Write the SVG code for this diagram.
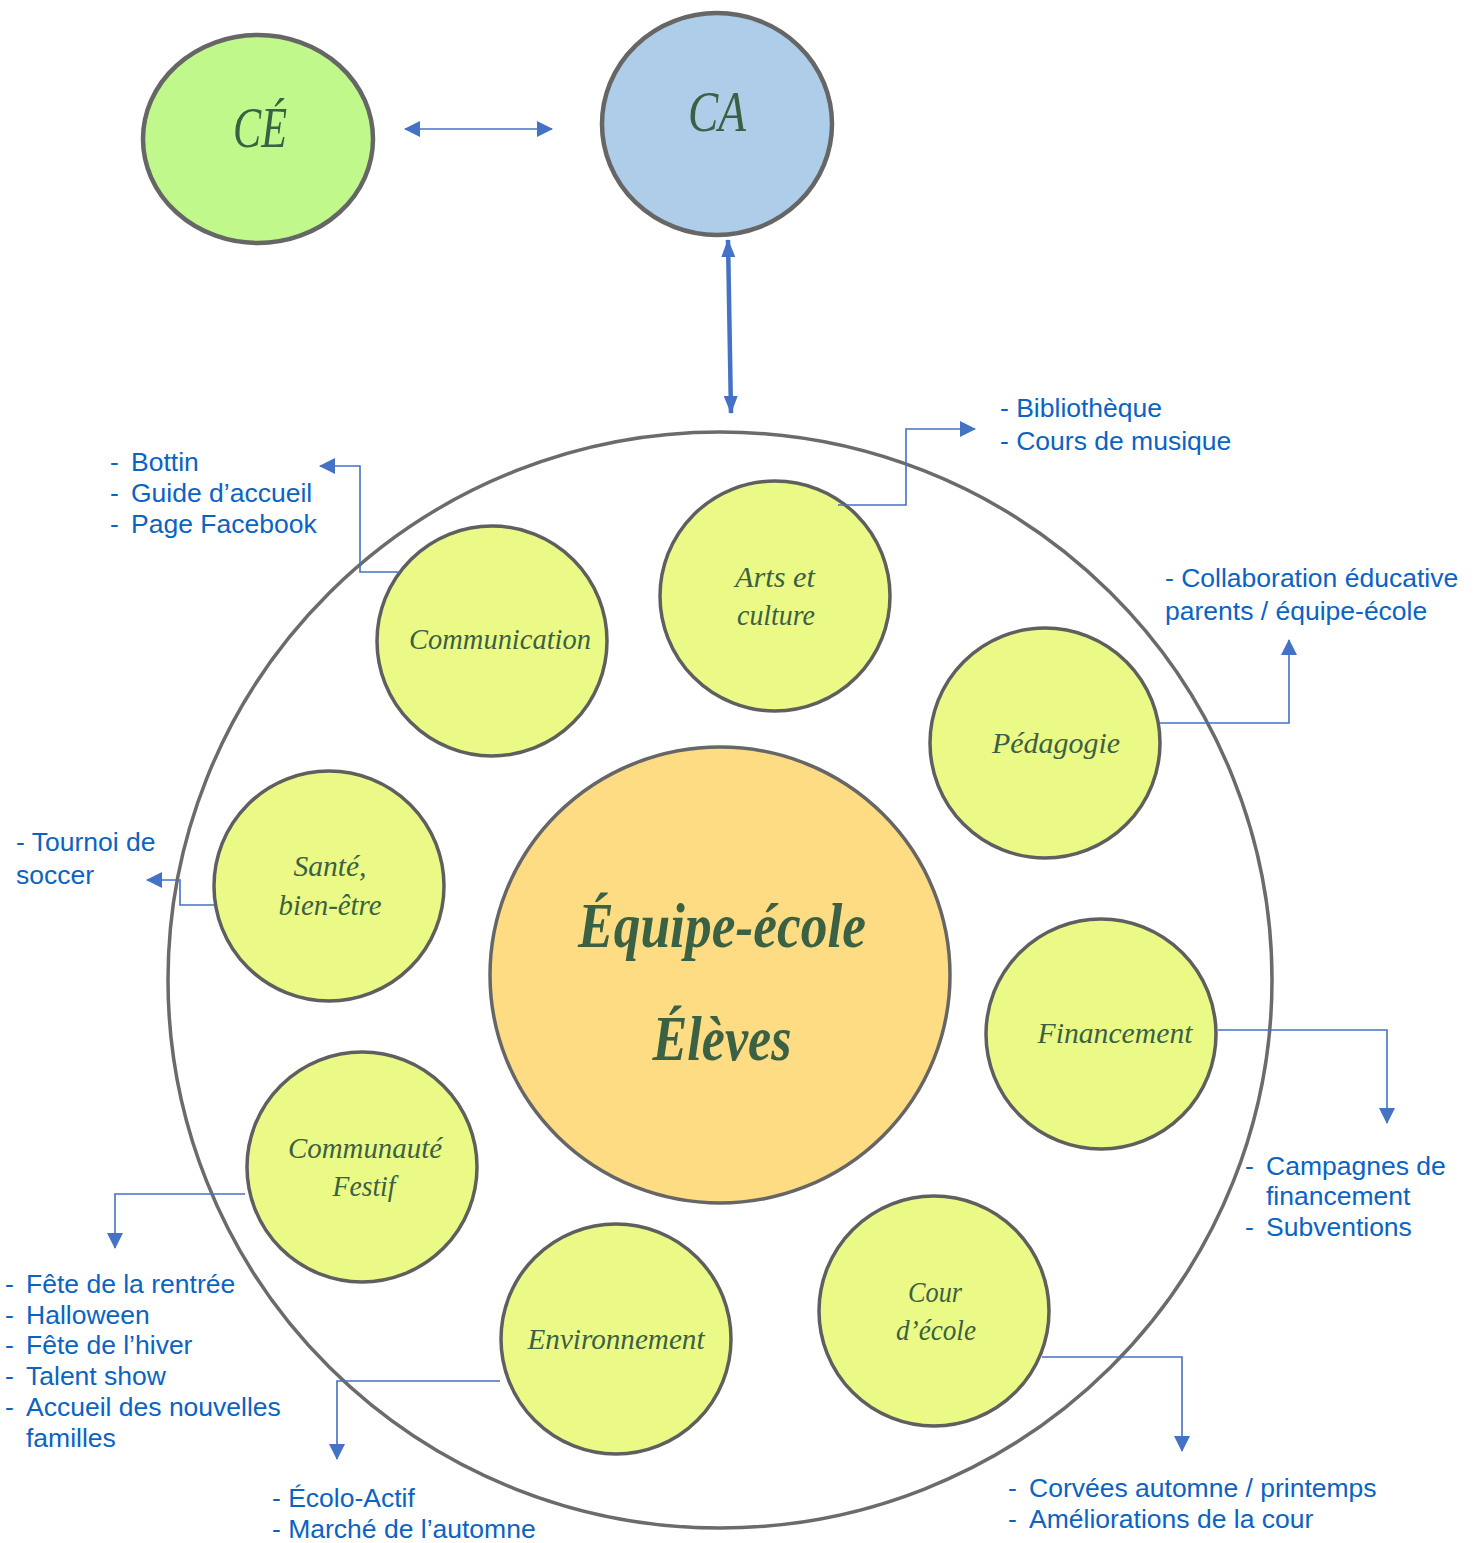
<svg xmlns="http://www.w3.org/2000/svg" width="1478" height="1543" viewBox="0 0 1478 1543">
<style>
.ring{fill:#ffffff;stroke:#6b6b6b;stroke-width:3.5}
.node{fill:#ebfa86;stroke:#5f5f5f;stroke-width:3.5}
.top{stroke:#666666;stroke-width:4.5}
.lbl{font-family:"Liberation Serif",serif;font-style:italic;fill:#3b6145;text-anchor:middle}
.note{font-family:"Liberation Sans",Arial,sans-serif;font-size:26.5px;fill:#0b63c4}
.con{fill:none;stroke:#4472c4;stroke-width:1.6}
</style>
<defs>
<marker id="ah" markerUnits="userSpaceOnUse" viewBox="0 0 16 16" markerWidth="16" markerHeight="16" refX="15" refY="8" orient="auto-start-reverse">
<path d="M0,0 L16,8 L0,16 z" fill="#4472c4"/>
</marker>
<marker id="ahb" markerUnits="userSpaceOnUse" viewBox="0 0 18 14" markerWidth="18" markerHeight="14" refX="17" refY="7" orient="auto-start-reverse">
<path d="M0,0 L18,7 L0,14 z" fill="#4472c4"/>
</marker>
</defs>

<g id="outer-ring"><ellipse class="ring" cx="720" cy="980" rx="552" ry="548"/></g>

<g id="node-ce">
<ellipse class="top" cx="258" cy="139" rx="115" ry="104" fill="#c0f88c"/>
<text class="lbl" x="260" y="147" font-size="58" textLength="54" lengthAdjust="spacingAndGlyphs">CÉ</text>
</g>
<g id="node-ca">
<ellipse class="top" cx="717" cy="124" rx="115" ry="111" fill="#aecde9"/>
<text class="lbl" x="717" y="131" font-size="58" textLength="58" lengthAdjust="spacingAndGlyphs">CA</text>
</g>

<g id="node-center">
<ellipse cx="720" cy="975" rx="230" ry="228" fill="#fddc84" stroke="#666666" stroke-width="3.5"/>
<text class="lbl" x="722" y="947" font-size="64" font-weight="bold" textLength="288" lengthAdjust="spacingAndGlyphs">Équipe-école</text>
<text class="lbl" x="722" y="1060" font-size="64" font-weight="bold" textLength="139" lengthAdjust="spacingAndGlyphs">Élèves</text>
</g>

<g id="node-communication">
<circle class="node" cx="492" cy="641" r="115"/>
<text class="lbl" x="500" y="649" font-size="30" textLength="182" lengthAdjust="spacingAndGlyphs">Communication</text>
</g>
<g id="node-arts">
<circle class="node" cx="775" cy="596" r="115"/>
<text class="lbl" x="775" y="587" font-size="30" textLength="80" lengthAdjust="spacingAndGlyphs">Arts et</text>
<text class="lbl" x="776" y="625" font-size="30" textLength="78" lengthAdjust="spacingAndGlyphs">culture</text>
</g>
<g id="node-pedagogie">
<circle class="node" cx="1045" cy="743" r="115"/>
<text class="lbl" x="1056" y="753" font-size="30" textLength="128" lengthAdjust="spacingAndGlyphs">Pédagogie</text>
</g>
<g id="node-sante">
<circle class="node" cx="329" cy="886" r="115"/>
<text class="lbl" x="330" y="876" font-size="30" textLength="73" lengthAdjust="spacingAndGlyphs">Santé,</text>
<text class="lbl" x="330" y="915" font-size="30" textLength="103" lengthAdjust="spacingAndGlyphs">bien-être</text>
</g>
<g id="node-financement">
<circle class="node" cx="1101" cy="1034" r="115"/>
<text class="lbl" x="1115" y="1043" font-size="30" textLength="155" lengthAdjust="spacingAndGlyphs">Financement</text>
</g>
<g id="node-communaute">
<circle class="node" cx="362" cy="1167" r="115"/>
<text class="lbl" x="365" y="1158" font-size="30" textLength="154" lengthAdjust="spacingAndGlyphs">Communauté</text>
<text class="lbl" x="364" y="1196" font-size="30" textLength="63" lengthAdjust="spacingAndGlyphs">Festif</text>
</g>
<g id="node-environnement">
<circle class="node" cx="616" cy="1339" r="115"/>
<text class="lbl" x="616" y="1349" font-size="30" textLength="177" lengthAdjust="spacingAndGlyphs">Environnement</text>
</g>
<g id="node-cour">
<circle class="node" cx="934" cy="1311" r="115"/>
<text class="lbl" x="935" y="1302" font-size="30" textLength="54" lengthAdjust="spacingAndGlyphs">Cour</text>
<text class="lbl" x="936" y="1340" font-size="30" textLength="80" lengthAdjust="spacingAndGlyphs">d’école</text>
</g>

<g id="connectors">
<path class="con" d="M405,129 L552,129" stroke-width="2" marker-start="url(#ah)" marker-end="url(#ah)"/>
<path d="M728,240 L731,413" fill="none" stroke="#4472c4" stroke-width="4.5" marker-start="url(#ahb)" marker-end="url(#ahb)"/>
<path class="con" d="M400,572 L360,572 L360,466 L320,466" marker-end="url(#ah)"/>
<path class="con" d="M838,505 L906,505 L906,429 L975,429" marker-end="url(#ah)"/>
<path class="con" d="M1160,723 L1289,723 L1289,640" marker-end="url(#ah)"/>
<path class="con" d="M214,905 L180,905 L180,880 L147,880" marker-end="url(#ah)"/>
<path class="con" d="M1218,1030 L1387,1030 L1387,1123" marker-end="url(#ah)"/>
<path class="con" d="M245,1194 L115,1194 L115,1248" marker-end="url(#ah)"/>
<path class="con" d="M500,1381 L337,1381 L337,1459" marker-end="url(#ah)"/>
<path class="con" d="M1042,1357 L1182,1357 L1182,1451" marker-end="url(#ah)"/>
</g>

<g id="notes">
<text class="note" x="110" y="471">-</text><text class="note" x="131" y="471">Bottin</text>
<text class="note" x="110" y="502">-</text><text class="note" x="131" y="502">Guide d’accueil</text>
<text class="note" x="110" y="533">-</text><text class="note" x="131" y="533">Page Facebook</text>

<text class="note" x="1000" y="417">- Bibliothèque</text>
<text class="note" x="1000" y="450">- Cours de musique</text>

<text class="note" x="1165" y="587">- Collaboration éducative</text>
<text class="note" x="1165" y="620">parents / équipe-école</text>

<text class="note" x="16" y="851">- Tournoi de</text>
<text class="note" x="16" y="884">soccer</text>

<text class="note" x="1245" y="1175">-</text><text class="note" x="1266" y="1175">Campagnes de</text>
<text class="note" x="1266" y="1205">financement</text>
<text class="note" x="1245" y="1236">-</text><text class="note" x="1266" y="1236">Subventions</text>

<text class="note" x="5" y="1293">-</text><text class="note" x="26" y="1293">Fête de la rentrée</text>
<text class="note" x="5" y="1324">-</text><text class="note" x="26" y="1324">Halloween</text>
<text class="note" x="5" y="1354">-</text><text class="note" x="26" y="1354">Fête de l’hiver</text>
<text class="note" x="5" y="1385">-</text><text class="note" x="26" y="1385">Talent show</text>
<text class="note" x="5" y="1416">-</text><text class="note" x="26" y="1416">Accueil des nouvelles</text>
<text class="note" x="26" y="1447">familles</text>

<text class="note" x="272" y="1507">- Écolo-Actif</text>
<text class="note" x="272" y="1538">- Marché de l’automne</text>

<text class="note" x="1008" y="1497">-</text><text class="note" x="1029" y="1497">Corvées automne / printemps</text>
<text class="note" x="1008" y="1528">-</text><text class="note" x="1029" y="1528">Améliorations de la cour</text>
</g>
</svg>
